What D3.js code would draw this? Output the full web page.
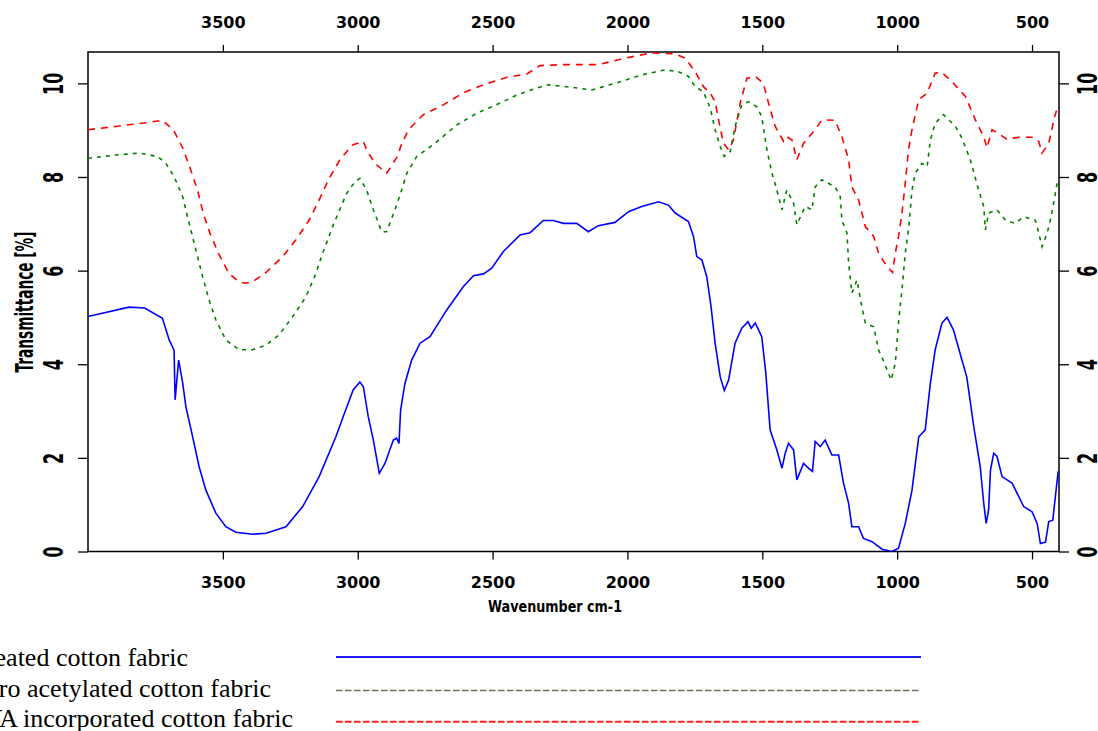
<!DOCTYPE html>
<html>
<head>
<meta charset="utf-8">
<script src="https://cdn.jsdelivr.net/npm/d3@7"></script>
<style>
body { margin: 0; background: #fff; }
svg { display: block; }
.axis line { stroke: #000; stroke-width: 1.3; }
.axis path { display: none; }
.axis text { font-family: "DejaVu Sans"; font-weight: bold; font-size: 16px; fill: #000; }
.legend text { font-family: "Liberation Serif"; font-size: 26px; fill: #000; }
</style>
</head>
<body>
<svg id="chart" width="1098" height="731"></svg>
<script>
var xTicks = [3500, 3000, 2500, 2000, 1500, 1000, 500];
var yTicks = [0, 2, 4, 6, 8, 10];

// [wavenumber, transmittance]
var untreated = [[4000,5.02],[3848,5.22],[3790,5.20],[3724,4.98],[3699,4.52],[3681,4.30],[3677,3.24],[3664,4.09],[3649,3.60],[3637,3.09],[3612,2.45],[3588,1.81],[3563,1.31],[3526,0.82],[3489,0.53],[3452,0.41],[3390,0.37],[3340,0.39],[3266,0.53],[3204,0.96],[3143,1.60],[3081,2.45],[3054,2.88],[3017,3.45],[2992,3.62],[2979,3.52],[2961,2.88],[2942,2.38],[2920,1.67],[2899,1.88],[2868,2.38],[2856,2.42],[2847,2.31],[2841,3.02],[2825,3.59],[2800,4.09],[2769,4.45],[2732,4.59],[2670,5.16],[2608,5.66],[2571,5.89],[2534,5.93],[2503,6.05],[2460,6.41],[2398,6.76],[2361,6.81],[2312,7.07],[2275,7.07],[2237,7.01],[2188,7.01],[2145,6.83],[2108,6.96],[2046,7.03],[1996,7.26],[1947,7.37],[1885,7.47],[1848,7.40],[1823,7.23],[1774,7.05],[1755,6.73],[1743,6.30],[1724,6.23],[1706,5.87],[1690,5.23],[1675,4.45],[1656,3.73],[1641,3.44],[1625,3.66],[1601,4.45],[1576,4.77],[1553,4.91],[1541,4.77],[1526,4.88],[1502,4.59],[1487,3.81],[1471,2.60],[1446,2.17],[1427,1.78],[1415,2.10],[1403,2.31],[1384,2.17],[1372,1.53],[1347,1.88],[1329,1.78],[1314,1.71],[1304,2.35],[1285,2.24],[1267,2.38],[1242,2.06],[1217,2.06],[1199,1.46],[1180,1.03],[1168,0.53],[1143,0.53],[1125,0.28],[1093,0.21],[1056,0.05],[1019,0.00],[995,0.07],[970,0.60],[945,1.31],[920,2.45],[896,2.60],[877,3.59],[859,4.31],[834,4.88],[815,5.00],[791,4.73],[760,4.09],[742,3.73],[716,2.67],[692,1.81],[679,1.03],[670,0.60],[661,0.89],[654,1.74],[642,2.10],[630,2.03],[611,1.60],[574,1.46],[549,1.17],[531,0.96],[500,0.85],[481,0.60],[469,0.17],[450,0.20],[438,0.64],[423,0.67],[413,1.20],[403,1.71]];

var acetylated = [[4000,8.40],[3897,8.47],[3810,8.51],[3742,8.44],[3711,8.29],[3681,8.01],[3649,7.58],[3625,7.01],[3600,6.44],[3575,5.87],[3551,5.37],[3526,4.95],[3489,4.52],[3440,4.31],[3390,4.31],[3340,4.41],[3291,4.63],[3241,5.02],[3192,5.44],[3155,5.94],[3130,6.37],[3093,6.94],[3072,7.23],[3041,7.65],[3010,7.90],[2992,7.97],[2967,7.72],[2942,7.30],[2911,6.83],[2893,6.83],[2862,7.30],[2837,7.72],[2818,8.08],[2781,8.44],[2720,8.69],[2633,9.11],[2559,9.36],[2472,9.58],[2410,9.75],[2336,9.90],[2299,9.97],[2213,9.92],[2132,9.86],[2046,10.00],[1947,10.18],[1860,10.29],[1811,10.25],[1774,10.15],[1749,9.93],[1718,9.82],[1693,9.47],[1675,9.01],[1656,8.65],[1641,8.44],[1619,8.54],[1601,9.08],[1576,9.54],[1551,9.61],[1520,9.50],[1502,9.29],[1483,8.58],[1464,8.08],[1446,7.72],[1427,7.30],[1409,7.72],[1384,7.44],[1372,6.98],[1341,7.37],[1316,7.30],[1304,7.79],[1279,7.94],[1230,7.79],[1211,7.58],[1205,7.08],[1186,6.80],[1180,6.16],[1168,5.52],[1149,5.80],[1131,5.23],[1118,4.88],[1087,4.80],[1069,4.31],[1050,4.06],[1022,3.66],[1007,4.02],[995,4.88],[980,5.73],[970,6.37],[958,6.87],[945,7.72],[933,8.08],[908,8.29],[889,8.22],[877,8.79],[859,9.15],[828,9.33],[784,9.08],[760,8.83],[729,8.37],[698,7.72],[679,7.37],[673,6.87],[661,7.23],[630,7.30],[599,7.08],[562,7.01],[531,7.15],[488,7.08],[475,6.80],[463,6.51],[444,6.80],[432,7.08],[420,7.44],[407,7.87],[401,7.90]];

var incorporated = [[4000,9.01],[3897,9.08],[3786,9.16],[3724,9.21],[3684,9.01],[3649,8.62],[3619,8.15],[3594,7.72],[3573,7.23],[3548,6.80],[3514,6.34],[3477,5.94],[3440,5.76],[3415,5.73],[3390,5.76],[3340,5.96],[3278,6.30],[3229,6.66],[3180,7.08],[3143,7.51],[3106,7.97],[3066,8.37],[3035,8.58],[3017,8.69],[2979,8.76],[2967,8.58],[2936,8.29],[2893,8.08],[2880,8.19],[2850,8.47],[2841,8.65],[2812,9.01],[2757,9.33],[2683,9.54],[2608,9.80],[2534,9.97],[2447,10.13],[2373,10.20],[2324,10.38],[2237,10.40],[2108,10.40],[2009,10.54],[1910,10.65],[1823,10.63],[1786,10.54],[1749,10.25],[1718,9.93],[1693,9.79],[1675,9.61],[1662,9.22],[1644,8.72],[1625,8.58],[1607,8.79],[1582,9.58],[1557,10.11],[1526,10.15],[1496,10.00],[1477,9.58],[1452,9.08],[1421,8.76],[1409,8.86],[1390,8.79],[1372,8.37],[1347,8.72],[1310,8.97],[1279,9.22],[1230,9.21],[1205,8.86],[1180,8.37],[1168,7.79],[1143,7.51],[1118,6.94],[1087,6.73],[1069,6.37],[1038,6.09],[1017,5.96],[1007,6.37],[995,6.73],[982,7.23],[970,7.87],[958,8.58],[945,9.01],[920,9.65],[889,9.79],[859,10.22],[834,10.23],[797,10.04],[747,9.72],[710,9.22],[679,8.86],[667,8.62],[648,9.01],[593,8.81],[549,8.85],[500,8.85],[475,8.76],[463,8.51],[438,8.72],[416,9.29],[403,9.54]];

var seriesNames = ["Untreated cotton fabric", "Micro acetylated cotton fabric", "PVA incorporated cotton fabric"];
var lineColors = ["#0000ff", "#008000", "#ff0000"];
var legendColors = ["#1a1aff", "#6b7452", "#ff2020"];

var svg = d3.select("#chart");

var x = d3.scaleLinear().domain([4000, 400]).range([88, 1059]);
var y = d3.scaleLinear().domain([0, 10.67]).range([551.5, 52]);

svg.append("defs").append("clipPath").attr("id", "plotclip")
    .append("rect").attr("x", 88).attr("y", 52).attr("width", 971).attr("height", 499.5);

// axes
var topAxis = svg.append("g").attr("class", "axis")
    .attr("transform", "translate(0,52)")
    .call(d3.axisTop(x).tickValues(xTicks).tickSize(7).tickSizeOuter(0).tickFormat(d3.format("d")));
topAxis.selectAll("text").attr("y", -24).attr("dy", 0);

var bottomAxis = svg.append("g").attr("class", "axis")
    .attr("transform", "translate(0,551.5)")
    .call(d3.axisBottom(x).tickValues(xTicks).tickSize(8).tickSizeOuter(0).tickFormat(d3.format("d")));
bottomAxis.selectAll("text").attr("y", 36.5).attr("dy", 0);

var leftAxis = svg.append("g").attr("class", "axis")
    .attr("transform", "translate(88,0)")
    .call(d3.axisLeft(y).tickValues(yTicks).tickSize(10).tickSizeOuter(0));
leftAxis.selectAll("text")
    .attr("x", 0).attr("y", 0).attr("dy", 0)
    .attr("text-anchor", "middle")
    .attr("transform", "translate(-25,0) scale(1.65,1) rotate(-90)");

var rightAxis = svg.append("g").attr("class", "axis")
    .attr("transform", "translate(1059,0)")
    .call(d3.axisRight(y).tickValues(yTicks).tickSize(10).tickSizeOuter(0));
rightAxis.selectAll("text")
    .attr("x", 0).attr("y", 0).attr("dy", 0)
    .attr("text-anchor", "middle")
    .attr("transform", "translate(38,0) scale(1.65,1) rotate(-90)");

// frame
svg.append("rect")
    .attr("x", 88).attr("y", 52).attr("width", 971).attr("height", 499.5)
    .attr("fill", "none").attr("stroke", "#000").attr("stroke-width", 1.5);

// titles
svg.append("text")
    .attr("x", 555).attr("y", 612)
    .attr("text-anchor", "middle")
    .attr("textLength", 134).attr("lengthAdjust", "spacingAndGlyphs")
    .style("font-family", "DejaVu Sans").style("font-weight", "bold").style("font-size", "15px")
    .text("Wavenumber cm-1");

svg.append("text")
    .attr("transform", "translate(33,302) scale(1.9,1) rotate(-90)")
    .attr("text-anchor", "middle")
    .attr("textLength", 141).attr("lengthAdjust", "spacingAndGlyphs")
    .style("font-family", "DejaVu Sans").style("font-weight", "bold").style("font-size", "13px")
    .text("Transmittance [%]");

// curves
var line = d3.line()
    .x(function(d) { return x(d[0]); })
    .y(function(d) { return y(d[1]); });

var plot = svg.append("g").attr("clip-path", "url(#plotclip)");

plot.append("path").datum(incorporated)
    .attr("d", line).attr("fill", "none")
    .attr("stroke", lineColors[2]).attr("stroke-width", 1.6)
    .attr("stroke-dasharray", "7,6");

plot.append("path").datum(acetylated)
    .attr("d", line).attr("fill", "none")
    .attr("stroke", lineColors[1]).attr("stroke-width", 1.6)
    .attr("stroke-dasharray", "4,5");

plot.append("path").datum(untreated)
    .attr("d", line).attr("fill", "none")
    .attr("stroke", lineColors[0]).attr("stroke-width", 1.6);

// legend
var legendY = [657, 690.5, 721.7];
var legendTextY = [666, 697, 727];
var legendTextEnd = [188, 271, 293];
var legendDash = [null, "6.5,2.5", "6.5,2.5"];
var legendWidth = [2, 1.6, 2];

var legend = svg.append("g").attr("class", "legend");
seriesNames.forEach(function(name, i) {
    legend.append("text")
        .attr("x", legendTextEnd[i]).attr("y", legendTextY[i])
        .attr("text-anchor", "end")
        .text(name);
    legend.append("line")
        .attr("x1", 336).attr("x2", 921)
        .attr("y1", legendY[i]).attr("y2", legendY[i])
        .attr("stroke", legendColors[i])
        .attr("stroke-width", legendWidth[i])
        .attr("stroke-dasharray", legendDash[i]);
});
</script>
</body>
</html>
